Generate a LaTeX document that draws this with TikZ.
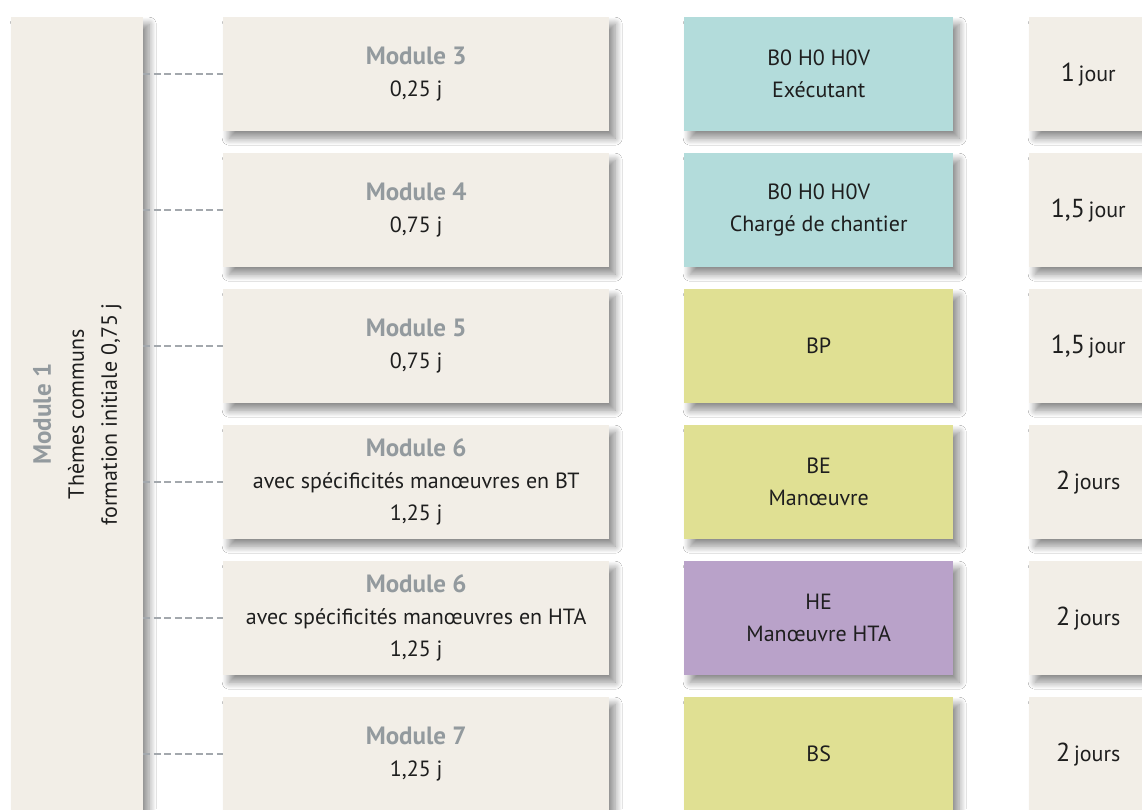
\documentclass[tikz,border=0pt]{standalone}
\usepackage{fontspec}
\setmainfont{PT Sans}
\usetikzlibrary{shadows.blur}
\definecolor{beige}{HTML}{F2EEE7}
\definecolor{teal}{HTML}{B3DCDB}
\definecolor{lime}{HTML}{E0E093}
\definecolor{lilac}{HTML}{B9A2C9}
\definecolor{titlegray}{HTML}{939A9E}
\definecolor{dashgray}{HTML}{A3A8AD}
\definecolor{ink}{HTML}{1E1E1E}
\tikzset{
  boxbase/.style={rectangle, anchor=north west, inner sep=0pt, align=center, text=ink,
    font=\fontsize{22}{32}\selectfont,
    blur shadow={shadow xshift=6pt, shadow yshift=-7pt, shadow blur radius=7pt, shadow blur steps=12, shadow opacity=45}},
  modbox/.style={boxbase, fill=beige, minimum width=386pt, minimum height=114pt},
  levbox/.style={boxbase, minimum width=269pt, minimum height=114pt},
  daybox/.style={boxbase, fill=beige, minimum width=118pt, minimum height=114pt},
  link/.style={draw=dashgray, line width=2.5pt, dash pattern=on 7pt off 3.5pt},
}
\newcommand{\ttl}[1]{{\fontsize{25}{32}\selectfont\bfseries\color{titlegray}#1}}
\newcommand{\dd}[2]{{\fontsize{26}{28}\selectfont #1}\,{\fontsize{22}{28}\selectfont #2}}
\begin{document}
\begin{tikzpicture}[x=1pt,y=-1pt]
\useasboundingbox (0,0) rectangle (1142,809);
\clip (0,0) rectangle (1142,809);
\fill[white] (0,0) rectangle (1142,809);
% tall module 1 box
\node[boxbase, fill=beige, minimum width=132pt, minimum height=794pt] (m1) at (11,17) {};
\node[rotate=90, align=center, text=ink, font=\fontsize{22}{33}\selectfont] (m1t) at (m1.center) {\ttl{Module 1}\\Thèmes communs\\formation initiale 0,75 j};
% module column
\node[modbox] (r1) at (223,17)  {\ttl{Module 3}\\0,25 j};
\node[modbox] (r2) at (223,153) {\ttl{Module 4}\\0,75 j};
\node[modbox] (r3) at (223,289) {\ttl{Module 5}\\0,75 j};
\node[modbox] (r4) at (223,425) {\ttl{Module 6}\\avec spécificités manœuvres en BT\\1,25 j};
\node[modbox] (r5) at (223,561) {\ttl{Module 6}\\avec spécificités manœuvres en HTA\\1,25 j};
\node[modbox] (r6) at (223,697) {\ttl{Module 7}\\1,25 j};
% levels
\node[levbox, fill=teal]  (l1) at (684,17)  {B0 H0 H0V\\Exécutant};
\node[levbox, fill=teal]  (l2) at (684,153) {B0 H0 H0V\\Chargé de chantier};
\node[levbox, fill=lime]  (l3) at (684,289) {BP};
\node[levbox, fill=lime]  (l4) at (684,425) {BE\\Manœuvre};
\node[levbox, fill=lilac] (l5) at (684,561) {HE\\Manœuvre HTA};
\node[levbox, fill=lime]  (l6) at (684,697) {BS};
% durations
\node[daybox] (d1) at (1029,17)  {\dd{1}{jour}};
\node[daybox] (d2) at (1029,153) {\dd{1,5}{jour}};
\node[daybox] (d3) at (1029,289) {\dd{1,5}{jour}};
\node[daybox] (d4) at (1029,425) {\dd{2}{jours}};
\node[daybox] (d5) at (1029,561) {\dd{2}{jours}};
\node[daybox] (d6) at (1029,697) {\dd{2}{jours}};
% connectors
\foreach \r in {r1,r2,r3,r4,r5,r6}{
  \draw[link] (m1.east |- \r.west) -- (\r.west);
}
\end{tikzpicture}
\end{document}
